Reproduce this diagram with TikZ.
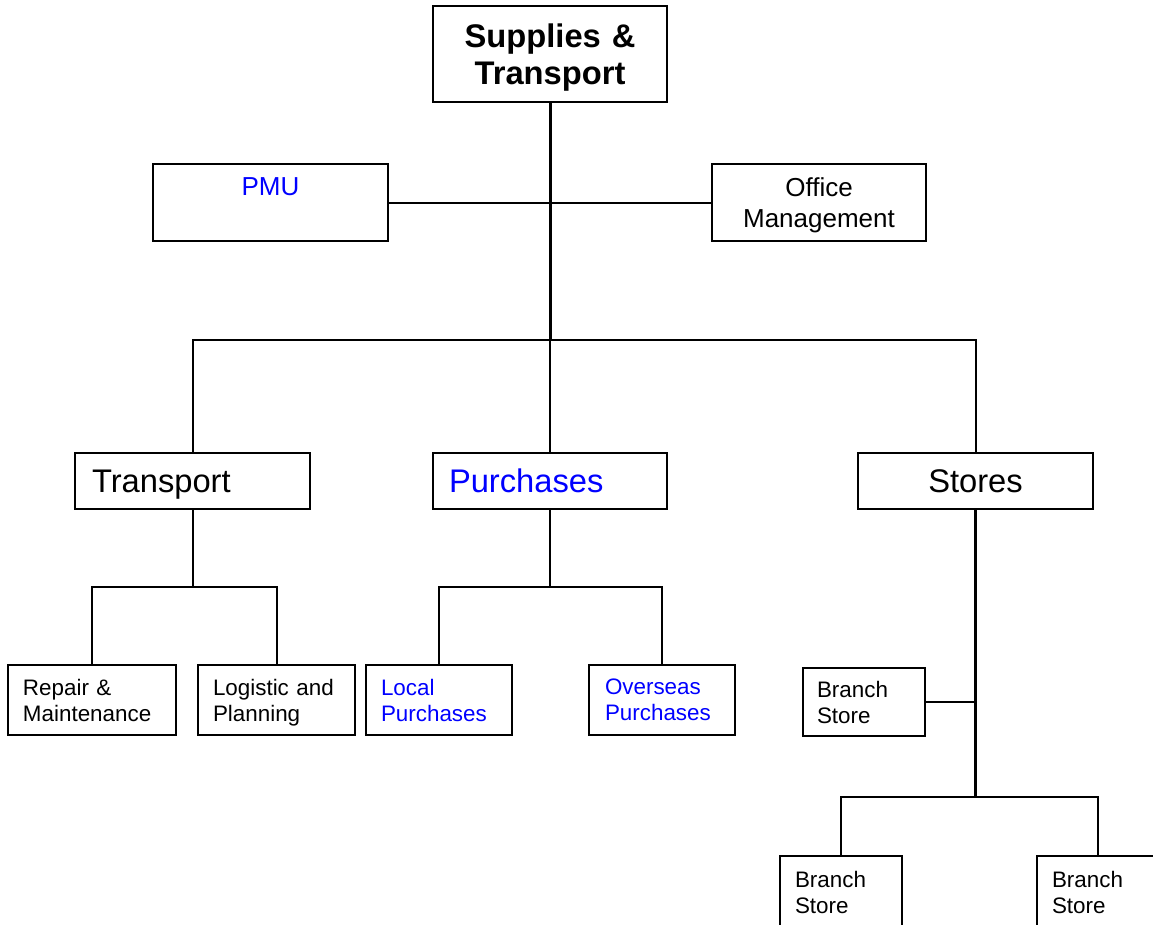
\documentclass[tikz,border=0pt]{standalone}
\usepackage{fontspec}
\setmainfont{Liberation Sans}
\newcommand{\nodesc}[1]{\raisebox{0pt}[\height][0pt]{#1}}
\begin{document}
\begin{tikzpicture}[x=1pt,y=-1pt,
  box/.style={draw=black,line width=2pt,fill=white,inner ysep=0pt,outer sep=0pt,anchor=north west},
  conn/.style={line width=2pt},
  trunk/.style={line width=3pt},
  big/.style={font=\fontsize{32.7}{37}\selectfont},
  bigbf/.style={font=\fontsize{32.7}{37}\selectfont\bfseries},
  mid/.style={font=\fontsize{26}{31}\selectfont},
  small/.style={font=\fontsize{22.4}{26}\selectfont},
  blu/.style={text=blue}]
\useasboundingbox (0,0) rectangle (1153,924);
\clip (0,0) rectangle (1153,924);
% boxes
\node[box,bigbf,align=center,inner xsep=0pt,text width=234,minimum width=234,minimum height=96] (top) at (433,6) {Supplies \&\\\nodesc{Transport}};
\node[box,mid,blu,align=center,inner xsep=0pt,text width=235,minimum width=235,minimum height=77] (pmu) at (153,164) {PMU\\\mbox{}};
\node[box,mid,align=center,inner xsep=0pt,text width=214,minimum width=214,minimum height=77] (office) at (712,164) {Office\\\nodesc{Management}};
\node[box,big,align=left,inner xsep=17pt,text width=201,minimum height=56] (transport) at (75,453) {\nodesc{Transport}};
\node[box,big,blu,align=left,inner xsep=16pt,text width=202,minimum height=56] (purch) at (433,453) {Purchases};
\node[box,big,align=center,inner xsep=0pt,text width=235,minimum height=56] (stores) at (858,453) {Stores};
\node[box,small,align=left,inner xsep=15pt,text width=138,minimum height=70] (repair) at (8,665) {Repair \&\\Maintenance};
\node[box,small,align=left,inner xsep=15pt,text width=127,minimum height=70] (logistic) at (198,665) {Logistic and\\\nodesc{Planning}};
\node[box,small,blu,align=left,inner xsep=15pt,text width=116,minimum height=70] (local) at (366,665) {Local\\Purchases};
\node[box,small,blu,align=left,inner xsep=16pt,text width=114,minimum height=70] (overseas) at (589,665) {Overseas\\Purchases};
\node[box,small,align=left,inner xsep=14pt,text width=94,minimum height=68] (bs0) at (803,668) {Branch\\Store};
\node[box,small,align=left,inner xsep=15pt,text width=92,minimum height=73] (bs1) at (780,856) {Branch\\Store};
\node[box,small,align=left,inner xsep=15pt,text width=92,minimum height=73] (bs2) at (1037,856) {Branch\\Store};
% connectors
\coordinate (hub) at (550,340);
\draw[trunk] (top.south) -- (hub);
\draw[conn] (pmu.east) -- (office.west);
\draw[conn] (transport.north) |- (hub) -| (stores.north);
\draw[conn] (hub) -- (purch.north);
\draw[conn] (transport.south) -- ++(0,78) coordinate (tj);
\draw[conn] (repair.north) |- (tj) -| (logistic.north);
\draw[conn] (purch.south) -- ++(0,78) coordinate (pj);
\draw[conn] (local.north) |- (pj) -| (overseas.north);
\draw[line width=2.6pt] (stores.south) -- ++(0,288) coordinate (sj);
\draw[conn] (bs0.east) -- (bs0.east -| sj);
\draw[conn] (bs1.north) |- (sj) -| (bs2.north);
\end{tikzpicture}
\end{document}
